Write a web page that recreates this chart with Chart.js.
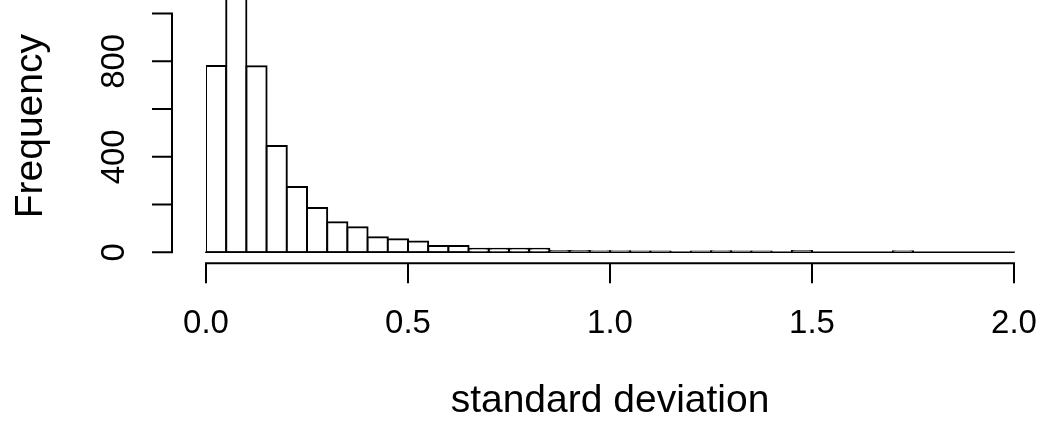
<!DOCTYPE html>
<html>
<head>
<meta charset="utf-8">
<script src="https://cdn.jsdelivr.net/npm/chart.js@4/dist/chart.umd.min.js"></script>
<style>
  html, body { margin: 0; padding: 0; background: #fff; }
  #wrap { width: 1043px; height: 423px; }
</style>
</head>
<body>
<div id="wrap"><canvas id="histChart" width="1043" height="423"></canvas></div>
<script>
// histogram bins (width 0.05) and counts
const binMids = [
  0.025, 0.075, 0.125, 0.175, 0.225, 0.275, 0.325, 0.375, 0.425, 0.475,
  0.525, 0.575, 0.625, 0.675, 0.725, 0.775, 0.825, 0.875, 0.925, 0.975,
  1.025, 1.075, 1.125, 1.175, 1.225, 1.275, 1.325, 1.375, 1.425, 1.475,
  1.525, 1.575, 1.625, 1.675, 1.725, 1.775, 1.825, 1.875, 1.925, 1.975
];
const counts = [
  781, 1090, 779, 445, 274, 186, 126, 105, 63, 55,
  45, 26, 26, 15, 15, 15, 15, 5, 5, 4,
  4, 3, 3, 0, 3, 4, 3, 3, 0, 5,
  0, 0, 0, 0, 4, 0, 0, 0, 0, 0
];
const xTicks = [0, 0.5, 1.0, 1.5, 2.0];
const yTicks = [0, 200, 400, 600, 800, 1000];
const yLabelled = [0, 400, 800];

const FONT = "'Liberation Sans', Arial, sans-serif";
const AXIS_GAP = 11;   // R puts axes a little away from the plot
const TICK_LEN = 19;

// draws R-style axis lines and tick marks, plus the zero baseline of the bars
const rAxes = {
  id: 'rAxes',
  afterDatasetsDraw(chart) {
    const ctx = chart.ctx;
    const xs = chart.scales.x, ys = chart.scales.y;
    const y0 = ys.getPixelForValue(0);
    const x0 = xs.getPixelForValue(0);
    ctx.save();
    ctx.strokeStyle = '#000';
    ctx.lineCap = 'square';

    // baseline of empty bins
    ctx.lineWidth = 1.6;
    ctx.beginPath();
    ctx.moveTo(x0, y0);
    ctx.lineTo(xs.getPixelForValue(2), y0);
    ctx.stroke();

    ctx.lineWidth = 2;
    // x axis
    const ay = y0 + AXIS_GAP;
    ctx.beginPath();
    ctx.moveTo(xs.getPixelForValue(xTicks[0]), ay);
    ctx.lineTo(xs.getPixelForValue(xTicks[xTicks.length - 1]), ay);
    xTicks.forEach(v => {
      const px = xs.getPixelForValue(v);
      ctx.moveTo(px, ay);
      ctx.lineTo(px, ay + TICK_LEN);
    });
    ctx.stroke();

    // y axis
    const ax = x0 - 34;
    ctx.beginPath();
    ctx.moveTo(ax, ys.getPixelForValue(yTicks[0]));
    ctx.lineTo(ax, ys.getPixelForValue(yTicks[yTicks.length - 1]));
    yTicks.forEach(v => {
      const py = ys.getPixelForValue(v);
      ctx.moveTo(ax, py);
      ctx.lineTo(ax - TICK_LEN, py);
    });
    ctx.stroke();
    ctx.restore();
  }
};

const ctx = document.getElementById('histChart').getContext('2d');

const histChart = new Chart(ctx, {
  type: 'bar',
  data: {
    datasets: [{
      label: 'Frequency',
      data: binMids.map((m, i) => ({ x: m, y: counts[i] })),
      backgroundColor: '#fff',
      borderColor: '#000',
      borderWidth: 2,
      inflateAmount: 1,
      borderSkipped: false,
      barPercentage: 1,
      categoryPercentage: 1,
    }]
  },
  options: {
    responsive: false,
    animation: false,
    events: [],
    layout: { padding: { left: 0, right: 29, top: 0, bottom: 0 } },
    plugins: {
      legend: { display: false },
      tooltip: { enabled: false }
    },
    scales: {
      x: {
        type: 'linear',
        min: 0,
        max: 2,
        offset: false,
        grid: { display: false, drawTicks: false },
        border: { display: false },
        afterBuildTicks: s => { s.ticks = xTicks.map(v => ({ value: v })); },
        afterFit: s => { s.height = 170.7; s.paddingLeft = 0; s.paddingRight = 0; },
        ticks: {
          padding: 51.7,
          color: '#000',
          font: { family: FONT, size: 33 },
          maxRotation: 0,
          autoSkip: false,
          callback: v => Number(v).toFixed(1)
        },
        title: {
          display: true,
          text: 'standard deviation',
          color: '#000',
          font: { family: FONT, size: 39, lineHeight: 1 },
          padding: { top: 38, bottom: 2 }
        }
      },
      y: {
        min: 0,
        max: 1057,
        grid: { display: false, drawTicks: false },
        border: { display: false },
        afterBuildTicks: s => { s.ticks = yTicks.map(v => ({ value: v })); },
        afterFit: s => { s.width = 206; s.paddingTop = 0; s.paddingBottom = 0; },
        ticks: {
          padding: 64,
          color: '#000',
          font: { family: FONT, size: 33 },
          minRotation: 90,
          maxRotation: 90,
          crossAlign: 'center',
          autoSkip: false,
          callback: v => yLabelled.includes(v) ? String(v) : ''
        },
        title: {
          display: true,
          text: 'Frequency',
          color: '#000',
          font: { family: FONT, size: 39, lineHeight: 1 },
          padding: { top: 12, bottom: 0 }
        }
      }
    }
  },
  plugins: [rAxes]
});
</script>
</body>
</html>
